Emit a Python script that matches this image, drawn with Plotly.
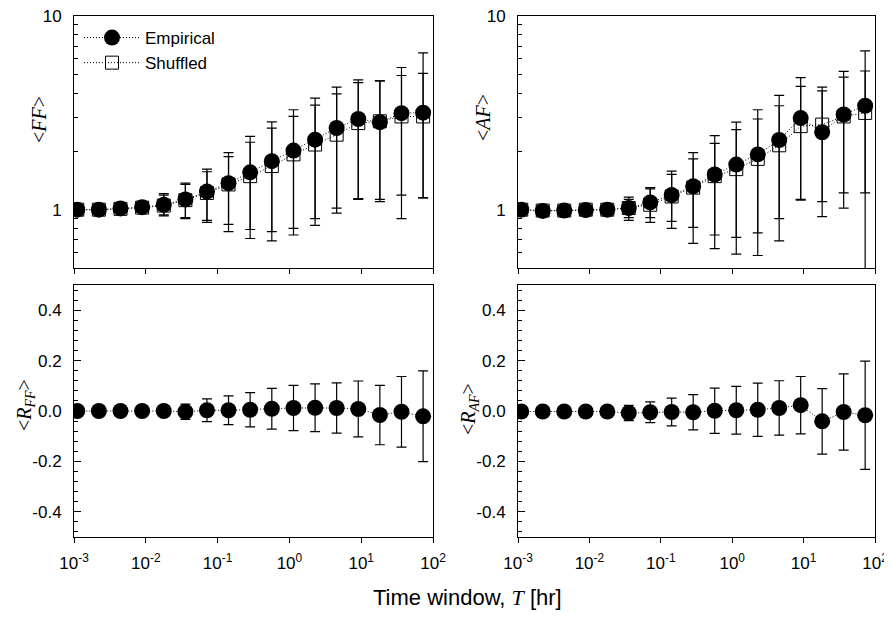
import plotly.graph_objects as go

# ---- data ----
T_hr = [0.00111, 0.00222, 0.00444, 0.00889, 0.0178, 0.0356, 0.0711, 0.142, 0.284,
        0.569, 1.14, 2.28, 4.55, 9.10, 18.2, 36.4, 72.8]

ff_emp = [1.0, 1.0, 1.015, 1.03, 1.06, 1.13, 1.24, 1.37, 1.56, 1.78, 2.02, 2.30, 2.64, 2.94, 2.83, 3.15, 3.17]
ff_emp_hi = [1.01, 1.01, 1.025, 1.05, 1.21, 1.37, 1.62, 1.97, 2.39, 2.84, 3.28, 3.77, 4.29, 4.68, 4.62, 5.42, 6.45]
ff_emp_lo = [0.99, 0.99, 1.005, 1.01, 0.94, 0.90, 0.86, 0.77, 0.71, 0.69, 0.74, 0.83, 1.02, 1.13, 1.10, 0.90, 1.15]
ff_shu = [1.0, 1.0, 1.01, 1.025, 1.05, 1.12, 1.22, 1.35, 1.49, 1.68, 1.93, 2.17, 2.44, 2.80, 2.86, 3.03, 3.03]
ff_shu_hi = [1.01, 1.01, 1.02, 1.04, 1.19, 1.35, 1.57, 1.88, 2.23, 2.64, 3.03, 3.47, 3.96, 4.53, 4.62, 4.93, 5.06]
ff_shu_lo = [0.99, 0.99, 1.0, 1.01, 0.93, 0.91, 0.88, 0.84, 0.79, 0.77, 0.80, 0.90, 0.96, 1.14, 1.13, 1.19, 1.15]

af_emp = [1.0, 0.985, 0.99, 0.995, 1.0, 1.02, 1.09, 1.19, 1.32, 1.52, 1.71, 1.93, 2.29, 2.97, 2.51, 3.10, 3.44]
af_emp_hi = [1.01, 0.995, 1.0, 1.005, 1.02, 1.16, 1.30, 1.58, 1.97, 2.41, 2.83, 3.28, 3.89, 4.81, 4.11, 5.18, 6.60]
af_emp_lo = [0.99, 0.975, 0.98, 0.985, 0.98, 0.88, 0.86, 0.80, 0.67, 0.63, 0.59, 0.58, 0.69, 1.13, 0.92, 1.02, 0.28]
af_shu = [1.0, 0.99, 0.99, 1.0, 1.0, 1.02, 1.06, 1.17, 1.30, 1.49, 1.62, 1.83, 2.15, 2.70, 2.75, 3.03, 3.16]
af_shu_hi = [1.01, 1.0, 1.0, 1.01, 1.02, 1.13, 1.28, 1.52, 1.83, 2.20, 2.59, 2.94, 3.44, 4.33, 4.29, 4.83, 5.20]
af_shu_lo = [0.99, 0.98, 0.98, 0.99, 0.98, 0.91, 0.91, 0.87, 0.81, 0.74, 0.72, 0.76, 0.90, 1.12, 1.10, 1.22, 1.22]

rff = [0, 0, 0, 0, 0, -0.003, 0.003, 0.003, 0.005, 0.009, 0.012, 0.013, 0.012, 0.008, -0.016, -0.003, -0.021]
rff_err = [0.002, 0.002, 0.003, 0.004, 0.008, 0.03, 0.045, 0.057, 0.068, 0.081, 0.09, 0.095, 0.1, 0.111, 0.118, 0.14, 0.18]
raf = [-0.002, -0.002, -0.002, -0.002, -0.002, -0.008, -0.005, -0.004, -0.005, 0.001, 0.003, 0.005, 0.012, 0.023, -0.041, -0.004, -0.017]
raf_err = [0.002, 0.002, 0.003, 0.004, 0.008, 0.03, 0.041, 0.055, 0.07, 0.09, 0.095, 0.106, 0.108, 0.114, 0.13, 0.151, 0.215]

x_tickvals = [0.001, 0.01, 0.1, 1, 10, 100]
x_ticktext = ["10<sup>-3</sup>", "10<sup>-2</sup>", "10<sup>-1</sup>", "10<sup>0</sup>", "10<sup>1</sup>", "10<sup>2</sup>"]
ylog_tickvals = [1, 10]
ylog_ticktext = ["1", "10"]
ylog_minor = [0.5, 0.6, 0.7, 0.8, 0.9, 2, 3, 4, 5, 6, 7, 8, 9]
ylin_tickvals = [-0.4, -0.2, 0.0, 0.2, 0.4]
ylin_ticktext = ["-0.4", "-0.2", "0.0", "0.2", "0.4"]

# page body adds an 8px offset; figure coordinates are window coordinates minus OFF
OFF = 8
W, H = 892, 617
SANS = "Liberation Sans, Arial, sans-serif"
SERIF = "Liberation Serif, Times New Roman, serif"
DOTS = "1px,2px"

fig = go.Figure()


def err(vals, hi, lo):
    return dict(type="data", symmetric=False,
                array=[h - v for h, v in zip(hi, vals)],
                arrayminus=[v - l for v, l in zip(vals, lo)],
                color="black", thickness=1.2, width=5)


def add_pair(emp, ehi, elo, shu, shi, slo, xa, ya, show):
    fig.add_trace(go.Scatter(
        x=T_hr, y=shu, xaxis=xa, yaxis=ya, name="Shuffled", legendrank=2,
        mode="lines+markers", showlegend=show,
        line=dict(color="black", width=1, dash=DOTS),
        marker=dict(symbol="square-open", size=13, color="black", line=dict(width=1)),
        error_y=err(shu, shi, slo)))
    fig.add_trace(go.Scatter(
        x=T_hr, y=emp, xaxis=xa, yaxis=ya, name="Empirical", legendrank=1,
        mode="lines+markers", showlegend=show,
        line=dict(color="black", width=1, dash=DOTS),
        marker=dict(symbol="circle", size=16, color="black"),
        error_y=err(emp, ehi, elo)))


add_pair(ff_emp, ff_emp_hi, ff_emp_lo, ff_shu, ff_shu_hi, ff_shu_lo, "x", "y", True)
add_pair(af_emp, af_emp_hi, af_emp_lo, af_shu, af_shu_hi, af_shu_lo, "x2", "y2", False)

for vals, e, xa, ya in [(rff, rff_err, "x3", "y3"), (raf, raf_err, "x4", "y4")]:
    fig.add_trace(go.Scatter(
        x=T_hr, y=vals, xaxis=xa, yaxis=ya, showlegend=False,
        mode="lines+markers",
        line=dict(color="black", width=1, dash=DOTS),
        marker=dict(symbol="circle", size=16, color="black"),
        error_y=dict(type="data", array=e, color="black", thickness=1.2, width=5)))


def fx(p):
    return (p - OFF) / W


def fy(p):
    return 1 - (p - OFF) / H


common = dict(showline=True, linecolor="black", linewidth=1, mirror=True,
              showgrid=False, zeroline=False, tickcolor="black", automargin=False,
              ticklabeloverflow="allow",
              tickfont=dict(family=SANS, size=17, color="black"))

panels = [
    ("xaxis", "yaxis", "y", "x", (74, 433), (16, 268), True, False),
    ("xaxis2", "yaxis2", "y2", "x2", (518, 875), (16, 268), True, False),
    ("xaxis3", "yaxis3", "y3", "x3", (74, 433), (285, 537), False, True),
    ("xaxis4", "yaxis4", "y4", "x4", (518, 875), (285, 537), False, True),
]
lay = {}
for xk, yk, anchy, anchx, (xl, xr), (yt, yb), is_log, show_xlab in panels:
    lay[xk] = dict(common, type="log", range=[-3, 2], domain=[fx(xl), fx(xr)], anchor=anchy,
                   tickmode="array", tickvals=x_tickvals, ticktext=x_ticktext,
                   ticks="outside", ticklen=5, ticklabelstandoff=6,
                   showticklabels=show_xlab)
    yd = [fy(yb), fy(yt)]
    if is_log:
        lay[yk] = dict(common, type="log", range=[-0.30103, 1], domain=yd, anchor=anchx,
                       tickmode="array", tickvals=ylog_tickvals, ticktext=ylog_ticktext,
                       ticks="inside", ticklen=7, ticklabelstandoff=8,
                       minor=dict(tickmode="array", tickvals=ylog_minor, ticks="inside",
                                  ticklen=4, tickcolor="black"))
    else:
        lay[yk] = dict(common, type="linear", range=[-0.5, 0.5], domain=yd, anchor=anchx,
                       tickmode="array", tickvals=ylin_tickvals, ticktext=ylin_ticktext,
                       ticks="inside", ticklen=7, ticklabelstandoff=8,
                       minor=dict(tickmode="linear", tick0=0, dtick=0.04, ticks="inside",
                                  ticklen=4, tickcolor="black"))

annotations = []


def ann(text, px, py, angle=0, size=20):
    annotations.append(dict(text=text, x=fx(px), y=fy(py), xref="paper", yref="paper",
                            xanchor="center", yanchor="middle", showarrow=False,
                            textangle=angle, font=dict(family=SERIF, size=size, color="black")))


ann("&lt;<i>FF</i>&gt;", 39, 120, -90)
ann("&lt;<i>AF</i>&gt;", 483, 118, -90)
ann("&lt;<i>R</i><sub><i>FF</i></sub>&gt;", 25, 405, -90)
ann("&lt;<i>R</i><sub><i>AF</i></sub>&gt;", 469, 409, -90)
annotations.append(dict(
    text="Time window, <span style='font-family:Liberation Serif'><i>T</i></span> [hr]",
    x=fx(467), y=fy(597), xref="paper", yref="paper", xanchor="center", yanchor="middle",
    showarrow=False, font=dict(family=SANS, size=22, color="black")))

fig.update_layout(
    width=W, height=H, margin=dict(l=0, r=0, t=0, b=0, autoexpand=False),
    paper_bgcolor="white", plot_bgcolor="white",
    font=dict(family=SANS, color="black"),
    annotations=annotations,
    legend=dict(x=fx(79), y=fy(20), xanchor="left", yanchor="top",
                bgcolor="rgba(0,0,0,0)", font=dict(family=SANS, size=17, color="black"),
                itemwidth=56, tracegroupgap=0),
    **lay)

fig.write_html("out.html")
